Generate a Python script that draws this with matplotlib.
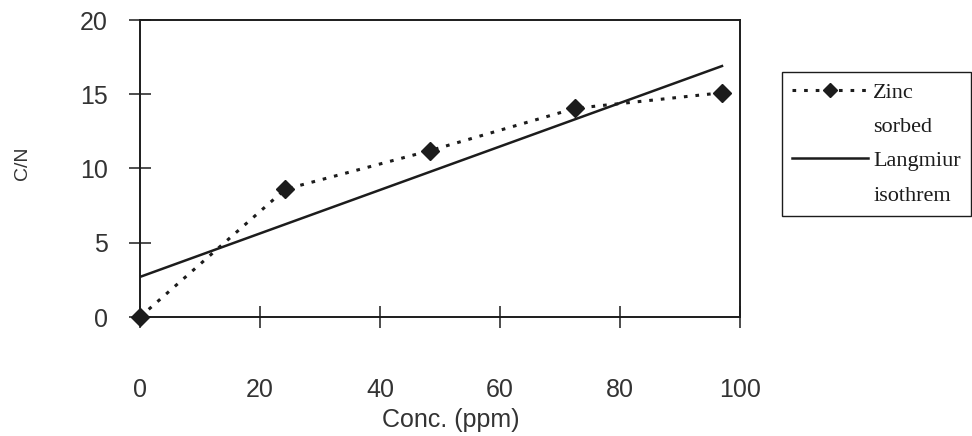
import matplotlib.pyplot as plt
from matplotlib.lines import Line2D

# values
conc = [0, 24.2, 48.3, 72.5, 97]           # ppm
cn = [0, 8.6, 11.2, 14.05, 15.1]           # C/N, zinc sorbed
fit_conc = [0, 97]                          # Langmuir fit end points
fit_cn = [2.7, 16.9]
xticks = [0, 20, 40, 60, 80, 100]
yticks = [0, 5, 10, 15, 20]
legend_labels = ["Zinc", "sorbed", "Langmiur", "isothrem"]

ink = "#1c1c1c"
plt.rcParams["font.family"] = ["Liberation Sans", "DejaVu Sans"]

fig = plt.figure(figsize=(9.72, 4.36), dpi=100)
ax = fig.add_axes([140 / 972, 1 - 317 / 436, 600 / 972, 297 / 436])

zinc, = ax.plot(conc, cn, color=ink, lw=2.2, linestyle=(0, (1.2, 2.6)),
                marker="D", ms=9.5, mfc=ink, mec=ink, clip_on=False, zorder=3)
fit, = ax.plot(fit_conc, fit_cn, color=ink, lw=1.8)

ax.set_xlim(0, 100)
ax.set_ylim(0, 20)
ax.set_xticks(xticks)
ax.set_yticks(yticks)
ax.tick_params(direction="inout", length=16.5, width=1.1, color=ink,
               labelsize=18, labelcolor="#333333")
ax.tick_params(axis="x", pad=36)
ax.tick_params(axis="y", pad=14.8)
for side in ax.spines.values():
    side.set_linewidth(1.4)
    side.set_color(ink)

fig.text(451 / 972, 1 - 420 / 436, "Conc. (ppm)", ha="center", va="center",
         fontsize=18, color="#333333")
fig.text(23 / 972, 1 - 163 / 436, "C/N", rotation=90, ha="center",
         va="center", fontsize=14, color="#333333")

# legend: handle sits on the first line of each two-line label
blank = Line2D([], [], linestyle="none")
leg = fig.legend([zinc, blank, fit, blank], legend_labels, loc="upper left",
                 bbox_to_anchor=(782 / 972, 1 - 72 / 436), borderaxespad=0,
                 fancybox=False, framealpha=1, edgecolor=ink,
                 prop={"family": "Liberation Serif", "size": 16},
                 handlelength=3.4, handletextpad=0.25, borderpad=0.45,
                 labelspacing=0.62, numpoints=1, markerscale=0.8)
leg.get_frame().set_linewidth(1.0)
for t in leg.get_texts():
    t.set_color(ink)

fig.savefig("out.png", dpi=100)
